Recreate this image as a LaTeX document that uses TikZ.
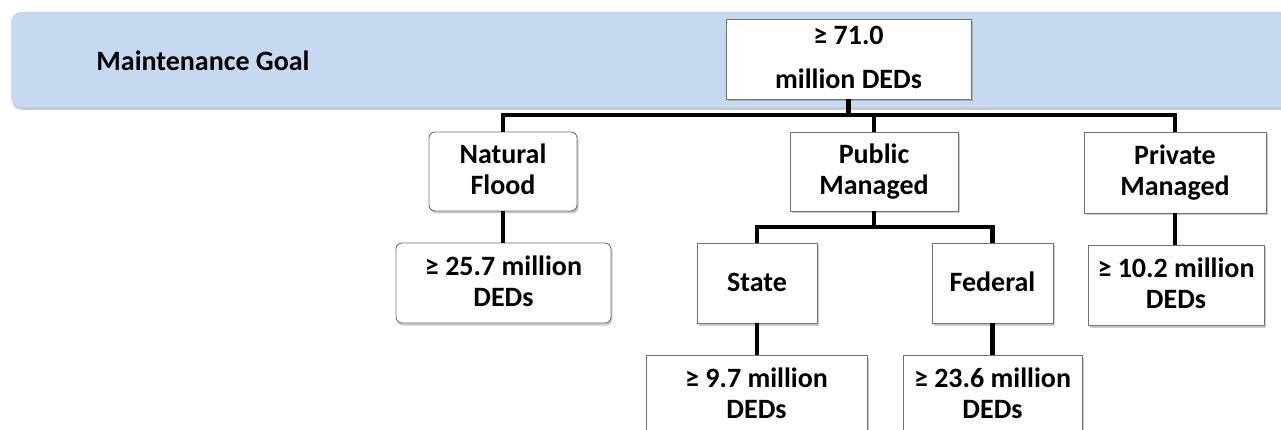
\documentclass[tikz,border=0pt]{standalone}
\usepackage{fontspec}
\setmainfont{Carlito}
\usetikzlibrary{shadows}
\definecolor{bandblue}{HTML}{C6D9F0}
\newcommand\bs{\rule[-7pt]{0pt}{30pt}}
\tikzset{
  box/.style={draw=black!55, line width=0.9pt, fill=white, align=center, inner sep=0pt,
    font=\fontsize{28}{31}\selectfont\bfseries,
    drop shadow={shadow xshift=1.5pt, shadow yshift=-2.5pt, opacity=0.35, fill=black!60}},
  rbox/.style={box, rounded corners=6pt},
  conn/.style={line width=4.5pt, line join=miter, line cap=butt},
}
\begin{document}
\begin{tikzpicture}[x=1pt, y=-1pt]
\useasboundingbox (0,0) rectangle (1281,430);
\clip (0,0) rectangle (1281,430);
% band
\fill[bandblue, rounded corners=10pt,
  drop shadow={shadow xshift=1pt, shadow yshift=-3pt, opacity=0.35, fill=black!60}]
  (11,12) rectangle (1320,107);
\node[font=\fontsize{28}{31}\selectfont\bfseries, anchor=center] (goal) at (203,61) {Maintenance Goal};
% boxes
\node[box, minimum width=245pt, minimum height=80pt] (top) at (848.5,59) {\bs≥ 71.0\\[13pt]million DEDs\bs};
\node[rbox, minimum width=148pt, minimum height=79pt] (nf) at (503,171.5) {\bs Natural\\Flood\bs};
\node[box, minimum width=168pt, minimum height=79pt] (pm) at (874,171.5) {\bs Public\\Managed\bs};
\node[box, minimum width=182pt, minimum height=81pt] (prm) at (1175,172.5) {\bs Private\\Managed\bs};
\node[rbox, minimum width=215pt, minimum height=80pt] (nfd) at (503.5,283) {\bs≥ 25.7 million\\DEDs\bs};
\node[box, minimum width=120pt, minimum height=80pt] (st) at (757,283) {\bs State};
\node[box, minimum width=121pt, minimum height=80pt] (fe) at (992.5,283) {\bs Federal};
\node[box, minimum width=176pt, minimum height=80pt] (prd) at (1176,285) {\bs≥ 10.2 million\\DEDs\bs};
\node[box, minimum width=221pt, minimum height=80pt] (std) at (756.5,395) {\bs≥ 9.7 million\\DEDs\bs};
\node[box, minimum width=179pt, minimum height=80pt] (fed) at (992.5,395) {\bs≥ 23.6 million\\DEDs\bs};
% connectors
\coordinate (bus) at (0,115);
\coordinate (sub) at (0,227);
\draw[conn] (nf.north) -- (nf.north |- bus) -- (prm.north |- bus) -- (prm.north);
\draw[conn] (top.south) -- (top.south |- bus);
\draw[conn] (pm.north) -- (pm.north |- bus);
\draw[conn] (st.north) -- (st.north |- sub) -- (fe.north |- sub) -- (fe.north);
\draw[conn] (pm.south) -- (pm.south |- sub);
\draw[conn] (nf.south) -- (nf.south |- nfd.north);
\draw[conn] (prm.south) -- (prm.south |- prd.north);
\draw[conn] (st.south) -- (st.south |- std.north);
\draw[conn] (fe.south) -- (fe.south |- fed.north);
\end{tikzpicture}
\end{document}
